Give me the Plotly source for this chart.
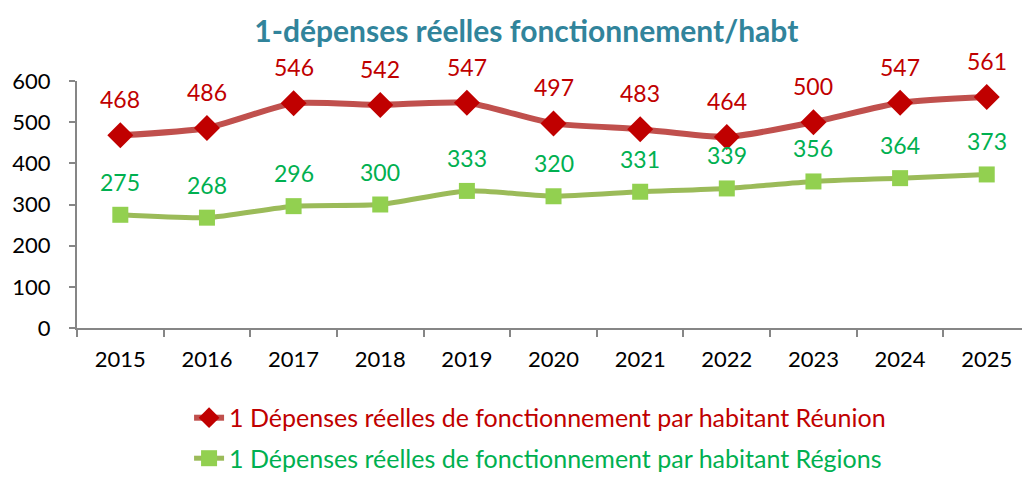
import plotly.graph_objects as go

years = ["2015", "2016", "2017", "2018", "2019", "2020", "2021", "2022", "2023", "2024", "2025"]
reunion = [468, 486, 546, 542, 547, 497, 483, 464, 500, 547, 561]
regions = [275, 268, 296, 300, 333, 320, 331, 339, 356, 364, 373]
y_ticks = [0, 100, 200, 300, 400, 500, 600]

name_reunion = "1 Dépenses réelles de fonctionnement par habitant Réunion"
name_regions = "1 Dépenses réelles de fonctionnement par habitant Régions"

RED_LINE = "#C0504D"
RED_MARK = "#C00000"
GREEN_LINE = "#9BBB59"
GREEN_MARK = "#92D050"
GREEN_TEXT = "#00B050"
FONT = "Lato"

x = list(range(len(years)))

fig = go.Figure()
fig.add_trace(go.Scatter(
    x=x, y=reunion, mode="lines+markers",
    name=f'<span style="color:{RED_MARK}">{name_reunion}</span>',
    legendgroup="a",
    line=dict(color=RED_LINE, width=6, shape="spline", smoothing=0.6),
    marker=dict(symbol="diamond", size=20, color=RED_MARK),
))
fig.add_trace(go.Scatter(
    x=x, y=regions, mode="lines+markers",
    name=f'<span style="color:{GREEN_TEXT}">{name_regions}</span>',
    legendgroup="b",
    line=dict(color=GREEN_LINE, width=5, shape="spline", smoothing=0.6),
    marker=dict(symbol="square", size=16, color=GREEN_MARK),
))

# value labels above each point
for xi, v in zip(x, reunion):
    fig.add_annotation(x=xi, y=v, text=str(v), showarrow=False, yshift=36,
                       font=dict(family=FONT, size=23, color=RED_MARK))
for xi, v in zip(x, regions):
    fig.add_annotation(x=xi, y=v, text=str(v), showarrow=False, yshift=33,
                       font=dict(family=FONT, size=23, color=GREEN_TEXT))

fig.update_layout(
    width=1022, height=477,
    margin=dict(l=77, r=0, t=81, b=149, autoexpand=False),
    paper_bgcolor="white", plot_bgcolor="white",
    font=dict(family=FONT, size=22, color="black"),
    title=dict(text="<b>1-dépenses réelles fonctionnement/habt</b>",
               x=0.515, xanchor="center", y=0.935, yanchor="middle",
               font=dict(family=FONT, size=30, color="#31849B")),
    showlegend=True,
    legend=dict(orientation="v", xref="container", yref="container",
                x=0.185, xanchor="left", y=0.172, yanchor="top",
                font=dict(family=FONT, size=25), tracegroupgap=5,
                bgcolor="rgba(0,0,0,0)"),
)

fig.update_xaxes(
    range=[-0.5, 10.407], tickmode="array", tickvals=x, ticktext=years,
    ticks="", showgrid=False, zeroline=False, automargin=False,
    showline=True, linecolor="#868686", linewidth=2,
    tickfont=dict(family=FONT, size=22), ticklabelstandoff=11,
    minor=dict(tickmode="array", tickvals=[i - 0.5 for i in range(len(years) + 1)],
               ticks="outside", ticklen=7, tickcolor="#868686", tickwidth=2, showgrid=False),
)
fig.update_yaxes(
    range=[0, 600], tickmode="array", tickvals=y_ticks,
    ticks="outside", ticklen=6, tickcolor="#868686", tickwidth=2,
    showgrid=False, zeroline=False, automargin=False,
    showline=True, linecolor="#868686", linewidth=2,
    tickfont=dict(family=FONT, size=22), ticklabelstandoff=14,
)

fig.write_html("out.html")
